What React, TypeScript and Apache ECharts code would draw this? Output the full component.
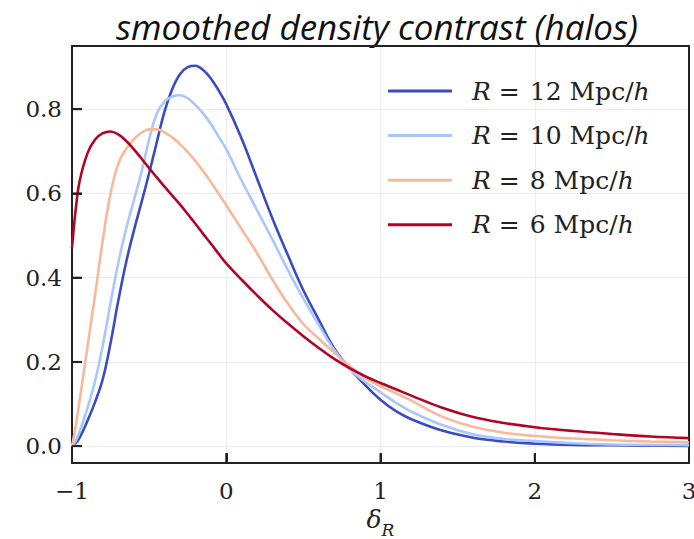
import React, { useEffect, useRef } from 'react';
import * as echarts from 'echarts';

const TITLE = 'smoothed density contrast (halos)';
const SERIES_NAMES = ['R = 12 Mpc/h', 'R = 10 Mpc/h', 'R = 8 Mpc/h', 'R = 6 Mpc/h'];
const COLORS = ['#3b4cc0', '#aac7fd', '#f7b89c', '#b40426'];
const X_TICKS = [-1, 0, 1, 2, 3];
const Y_TICKS = [0, 0.2, 0.4, 0.6, 0.8];
const X_MIN = -1;
const X_MAX = 3;
const Y_MIN = -0.04;
const Y_MAX = 0.95;

const X = [-1, -0.975, -0.95, -0.9, -0.85, -0.8, -0.75, -0.7, -0.65, -0.6,
  -0.55, -0.5, -0.45, -0.4, -0.35, -0.3, -0.25, -0.2, -0.15, -0.1,
  -0.05, 0, 0.1, 0.2, 0.3, 0.4, 0.5, 0.6, 0.7, 0.8,
  0.9, 1.0, 1.1, 1.2, 1.4, 1.6, 1.8, 2.0, 2.25, 2.5,
  2.75, 3.0];

const R12 = [0, 0.008, 0.02, 0.06, 0.105, 0.16, 0.245, 0.345, 0.435, 0.51,
  0.578, 0.648, 0.722, 0.795, 0.848, 0.883, 0.9, 0.903, 0.893, 0.873,
  0.845, 0.812, 0.73, 0.635, 0.54, 0.453, 0.37, 0.3, 0.232, 0.185,
  0.145, 0.11, 0.083, 0.064, 0.037, 0.02, 0.011, 0.006, 0.003, 0.002,
  0.001, 0.0005];

const R10 = [0, 0.013, 0.035, 0.09, 0.155, 0.24, 0.34, 0.435, 0.515, 0.582,
  0.65, 0.728, 0.79, 0.818, 0.83, 0.833, 0.826, 0.81, 0.79, 0.765,
  0.735, 0.705, 0.63, 0.56, 0.49, 0.418, 0.35, 0.288, 0.228, 0.183,
  0.153, 0.128, 0.103, 0.082, 0.05, 0.028, 0.017, 0.012, 0.007, 0.004,
  0.003, 0.002];

const R8 = [0, 0.05, 0.11, 0.235, 0.36, 0.49, 0.6, 0.67, 0.705, 0.728,
  0.744, 0.752, 0.752, 0.745, 0.733, 0.717, 0.698, 0.677, 0.653, 0.627,
  0.6, 0.572, 0.515, 0.458, 0.395, 0.338, 0.29, 0.255, 0.222, 0.19,
  0.162, 0.142, 0.126, 0.108, 0.07, 0.046, 0.032, 0.024, 0.018, 0.014,
  0.011, 0.009];

const R6 = [0.47, 0.565, 0.63, 0.695, 0.728, 0.743, 0.747, 0.74, 0.725, 0.705,
  0.683, 0.66, 0.638, 0.616, 0.595, 0.574, 0.551, 0.528, 0.504, 0.481,
  0.457, 0.434, 0.395, 0.358, 0.323, 0.291, 0.261, 0.233, 0.207, 0.185,
  0.166, 0.15, 0.135, 0.12, 0.091, 0.069, 0.055, 0.045, 0.036, 0.029,
  0.023, 0.019];

const Y_SERIES = [R12, R10, R8, R6];

const SERIF = '"DejaVu Serif", serif';
const INK = '#222222';
const TICK_LEN = 10;
const GRID = { left: 72, right: 5, top: 46, bottom: 76 };
const W = 694;
const H = 539;

// linear axis mappings matching the grid's value axes
const plotW = W - GRID.left - GRID.right;
const plotH = H - GRID.top - GRID.bottom;
const xPix = (v: number) => GRID.left + ((v - X_MIN) / (X_MAX - X_MIN)) * plotW;
const yPix = (v: number) => H - GRID.bottom - ((v - Y_MIN) / (Y_MAX - Y_MIN)) * plotH;

export default function App() {
  const ref = useRef<HTMLDivElement>(null);

  useEffect(() => {
    if (!ref.current) return;
    const chart = echarts.init(ref.current, null, { renderer: 'svg' });

    const series: any[] = SERIES_NAMES.map((name, k) => ({
      name,
      type: 'line',
      data: X.map((x, i) => [x, Y_SERIES[k][i]]),
      showSymbol: false,
      symbol: 'none',
      smooth: 0.4,
      lineStyle: { color: COLORS[k], width: 2.6 },
      itemStyle: { color: COLORS[k] },
      clip: true,
    }));

    const tickEls: any[] = [];
    X_TICKS.forEach((v, i) => {
      const px = xPix(v);
      const py = yPix(Y_MIN);
      tickEls.push({
        type: 'rect',
        id: 'xt' + i,
        z: 100,
        shape: { x: px - 1, y: py - TICK_LEN, width: 2, height: TICK_LEN },
        style: { fill: INK },
        silent: true,
      });
    });
    Y_TICKS.forEach((v, i) => {
      const px = xPix(X_MIN);
      const py = yPix(v);
      tickEls.push({
        type: 'rect',
        id: 'yt' + i,
        z: 100,
        shape: { x: px, y: py - 1, width: TICK_LEN, height: 2 },
        style: { fill: INK },
        silent: true,
      });
    });

    const baseText = { fontFamily: SERIF, fontSize: 25, color: INK, lineHeight: 30 };

    const frameAxisCommon = {
      type: 'value',
      axisLine: { show: true, onZero: false, lineStyle: { color: INK, width: 2 } },
      axisTick: { show: false },
      axisLabel: { show: false },
      splitLine: { show: false },
    };

    chart.setOption({
      animation: false,
      backgroundColor: '#ffffff',
      grid: {
        ...GRID,
        outerBoundsMode: 'none',
        show: false,
      },
      graphic: [
        {
          type: 'text',
          id: 'title',
          x: 377,
          y: 26,
          style: {
            text: TITLE,
            fontFamily: '"Open Sans", sans-serif',
            fontStyle: 'italic',
            fontSize: 35,
            fill: '#111111',
            textAlign: 'center',
            textVerticalAlign: 'middle',
          },
        },
        ...tickEls,
      ],
      legend: {
        orient: 'vertical',
        left: 383,
        top: 71,
        icon: 'rect',
        itemWidth: 64,
        itemHeight: 3,
        itemGap: 14.6,
        data: SERIES_NAMES,
        formatter: (name: string) => {
          const n = (name.match(/\d+/) || [''])[0];
          return `{sp|}{i|R}{eq|=}{t|${n} Mpc/}{i|h}`;
        },
        textStyle: {
          ...baseText,
          rich: {
            sp: { width: 15, ...baseText },
            i: { ...baseText, fontStyle: 'italic' },
            eq: { ...baseText, padding: [0, 10, 0, 8] },
            t: { ...baseText },
          },
        },
      },
      xAxis: [
        {
          type: 'value',
          position: 'bottom',
          min: X_MIN,
          max: X_MAX,
          interval: 1,
          axisLine: { show: true, onZero: false, lineStyle: { color: INK, width: 2 } },
          axisTick: { show: true, inside: true, length: TICK_LEN, customValues: X_TICKS, lineStyle: { color: INK, width: 2 } },
          splitLine: { show: true, lineStyle: { color: '#ececec', width: 1 } },
          axisLabel: {
            show: true,
            margin: 16,
            fontFamily: SERIF,
            fontSize: 23,
            color: INK,
            customValues: X_TICKS,
            formatter: (v: number) => (v < 0 ? '\u2212' + Math.abs(v) : String(v)),
          },
          name: '{d|δ}{s|R}',
          nameLocation: 'middle',
          nameGap: 38,
          nameTextStyle: {
            rich: {
              d: { fontFamily: SERIF, fontStyle: 'italic', fontSize: 25, color: INK, lineHeight: 32, verticalAlign: 'top' },
              s: { fontFamily: SERIF, fontStyle: 'italic', fontSize: 17, color: INK, lineHeight: 32, verticalAlign: 'bottom' },
            },
          },
        },
        { ...frameAxisCommon, position: 'top', min: X_MIN, max: X_MAX },
      ],
      yAxis: [
        {
          type: 'value',
          position: 'left',
          min: Y_MIN,
          max: Y_MAX,
          axisLine: { show: true, onZero: false, lineStyle: { color: INK, width: 2 } },
          axisTick: { show: true, inside: true, length: TICK_LEN, customValues: Y_TICKS, lineStyle: { color: INK, width: 2 } },
          splitLine: { show: true, lineStyle: { color: '#ececec', width: 1 } },
          axisLabel: {
            show: true,
            margin: 10,
            fontFamily: SERIF,
            fontSize: 23,
            color: INK,
            customValues: Y_TICKS,
            formatter: (v: number) => v.toFixed(1),
          },
        },
        { ...frameAxisCommon, position: 'right', min: Y_MIN, max: Y_MAX },
      ],
      series,
    });

    return () => chart.dispose();
  }, []);

  return (
    <div
      ref={ref}
      style={{ position: 'fixed', left: 0, top: 0, width: W, height: H, background: '#fff' }}
    />
  );
}
